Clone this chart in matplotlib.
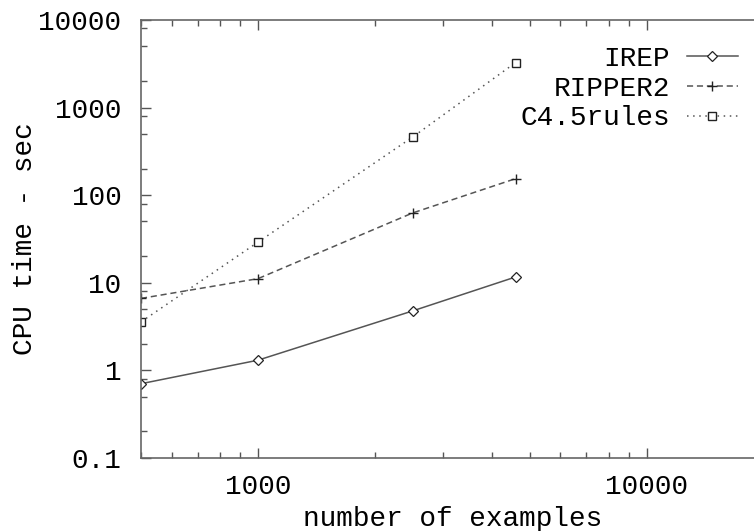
import matplotlib
matplotlib.use('Agg')
import matplotlib.pyplot as plt
from matplotlib.ticker import LogLocator, FixedLocator, FixedFormatter, NullFormatter

# data (log-log)
examples = [500, 1000, 2500, 4600]
irep = [0.70, 1.30, 4.75, 11.6]
ripper2 = [6.6, 11.1, 62.5, 154]
c45rules = [3.56, 29.0, 460, 3260]

x_major = [1000, 10000]
x_major_labels = ['1000', '10000']
y_major = [0.1, 1, 10, 100, 1000, 10000]
y_major_labels = ['0.1', '1', '10', '100', '1000', '10000']

plt.rcParams['font.family'] = ['Liberation Mono', 'DejaVu Sans Mono']
fs = 20

fig = plt.figure(figsize=(7.54, 5.31), dpi=100)
# axes runs past the right edge of the picture, like the cropped original
ax = fig.add_axes([141 / 754, 73.3 / 531, 622.6 / 754, 437.7 / 531])

line_col = '#555555'
mk_col = '#222222'
ax.plot(examples, irep, color=line_col, lw=1.1, ls='-', marker='D', ms=5,
        mfc='white', mec=mk_col, mew=0.9, label='IREP')
ax.plot(examples, ripper2, color=line_col, lw=1.1, ls=(0, (4, 2.5)), marker='+', ms=7,
        mec=mk_col, mew=1.0, label='RIPPER2')
ax.plot(examples, c45rules, color=line_col, lw=1.1, ls=(0, (1, 3)), marker='s', ms=6,
        mfc='white', mec=mk_col, mew=1.0, label='C4.5rules')

ax.set_xscale('log')
ax.set_yscale('log')
ax.set_xlim(500, 20000)
ax.set_ylim(0.1, 10000)

ax.xaxis.set_major_locator(FixedLocator(x_major))
ax.xaxis.set_major_formatter(FixedFormatter(x_major_labels))
ax.xaxis.set_minor_locator(LogLocator(base=10, subs=range(2, 10)))
ax.xaxis.set_minor_formatter(NullFormatter())
ax.yaxis.set_major_locator(FixedLocator(y_major))
ax.yaxis.set_major_formatter(FixedFormatter(y_major_labels))
ax.yaxis.set_minor_locator(LogLocator(base=10, subs=[2, 5, 8]))
ax.yaxis.set_minor_formatter(NullFormatter())

for s in ax.spines.values():
    s.set_color('#666666')
    s.set_linewidth(1.2)

ax.tick_params(which='both', direction='in', top=True, right=True, color='#555555', width=1.0)
ax.tick_params(which='major', length=7, labelsize=fs)
ax.tick_params(which='minor', length=4)
ax.tick_params(axis='y', which='major', pad=14)
ax.tick_params(axis='x', which='major', pad=12)

ax.set_xlabel('number of examples', fontsize=fs, labelpad=4)
ax.set_ylabel('CPU time - sec', fontsize=fs, labelpad=0)

ax.legend(loc='upper right', bbox_to_anchor=(738 / 754, 1 - 46 / 531),
          bbox_transform=fig.transFigure, frameon=False, markerfirst=False,
          fontsize=fs, handlelength=1.85, handletextpad=0.6, labelspacing=0.13,
          borderpad=0, borderaxespad=0)

fig.savefig('out.png', dpi=100)
